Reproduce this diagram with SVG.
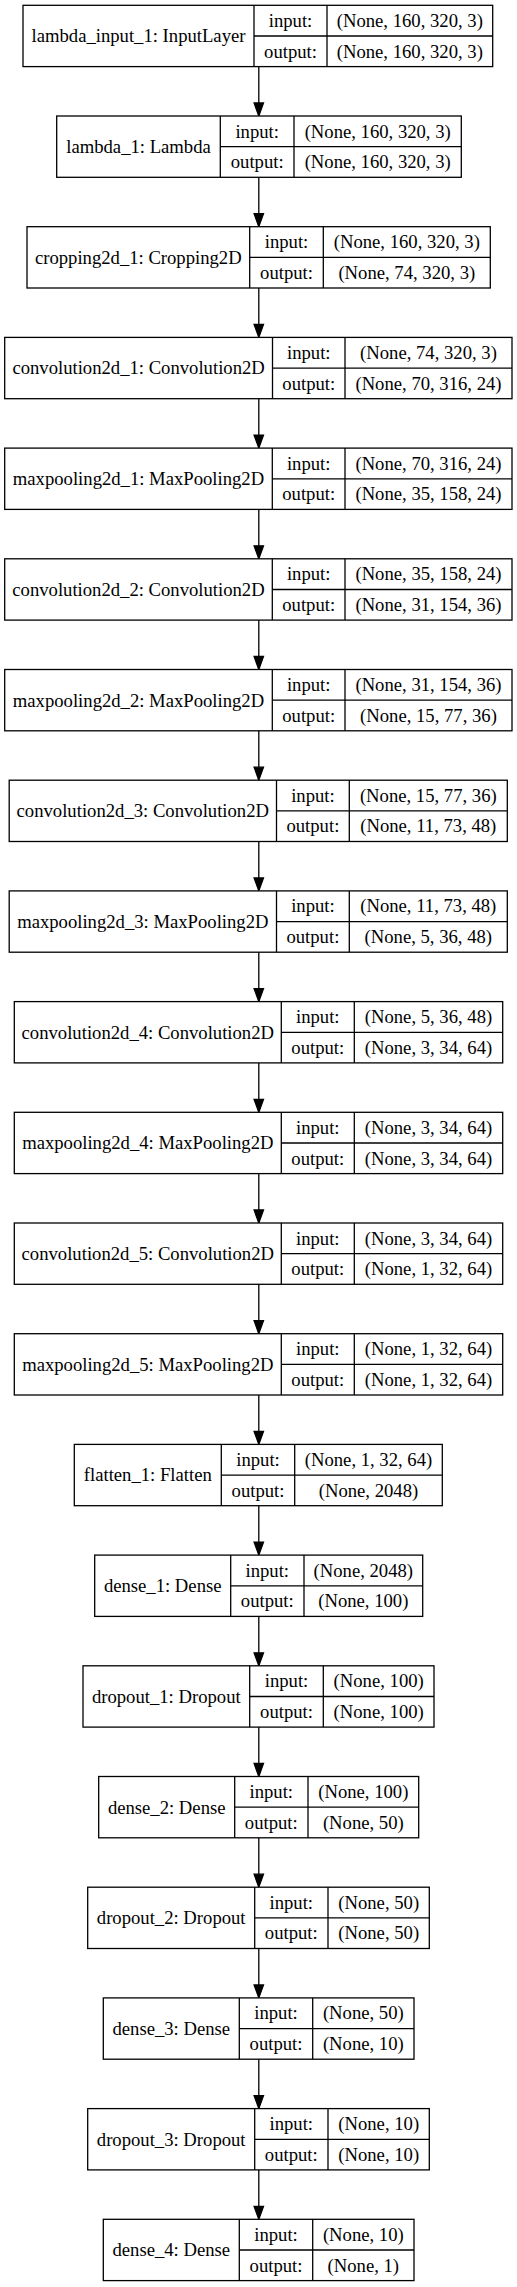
<svg xmlns="http://www.w3.org/2000/svg" width="517" height="2287" viewBox="0 0 517 2287">
<style>
rect.box{fill:#fff;stroke:#000;stroke-width:1.3}
line.d{stroke:#000;stroke-width:1.3}
text{font-family:"Liberation Serif","Times New Roman",serif;font-size:18.67px;fill:#000;text-anchor:middle}
.edge line{stroke:#000;stroke-width:1.3}
.edge polygon{fill:#000;stroke:#000;stroke-width:1.3}
</style>
<rect width="517" height="2287" fill="#fff"/>
<g id="edges" class="edge">
<line x1="258.8" y1="66.6" x2="258.8" y2="103"/><polygon points="258.8,116 254.1,103 263.5,103"/>
<line x1="258.8" y1="177.3" x2="258.8" y2="213.7"/><polygon points="258.8,226.7 254.1,213.7 263.5,213.7"/>
<line x1="258.8" y1="288" x2="258.8" y2="324.4"/><polygon points="258.8,337.4 254.1,324.4 263.5,324.4"/>
<line x1="258.8" y1="398.7" x2="258.8" y2="435.1"/><polygon points="258.8,448.1 254.1,435.1 263.5,435.1"/>
<line x1="258.8" y1="509.4" x2="258.8" y2="545.8"/><polygon points="258.8,558.8 254.1,545.8 263.5,545.8"/>
<line x1="258.8" y1="620.1" x2="258.8" y2="656.5"/><polygon points="258.8,669.5 254.1,656.5 263.5,656.5"/>
<line x1="258.8" y1="730.8" x2="258.8" y2="767.2"/><polygon points="258.8,780.2 254.1,767.2 263.5,767.2"/>
<line x1="258.8" y1="841.5" x2="258.8" y2="877.9"/><polygon points="258.8,890.9 254.1,877.9 263.5,877.9"/>
<line x1="258.8" y1="952.2" x2="258.8" y2="988.6"/><polygon points="258.8,1001.6 254.1,988.6 263.5,988.6"/>
<line x1="258.8" y1="1062.9" x2="258.8" y2="1099.3"/><polygon points="258.8,1112.3 254.1,1099.3 263.5,1099.3"/>
<line x1="258.8" y1="1173.6" x2="258.8" y2="1210"/><polygon points="258.8,1223 254.1,1210 263.5,1210"/>
<line x1="258.8" y1="1284.3" x2="258.8" y2="1320.7"/><polygon points="258.8,1333.7 254.1,1320.7 263.5,1320.7"/>
<line x1="258.8" y1="1395" x2="258.8" y2="1431.4"/><polygon points="258.8,1444.4 254.1,1431.4 263.5,1431.4"/>
<line x1="258.8" y1="1505.7" x2="258.8" y2="1542.1"/><polygon points="258.8,1555.1 254.1,1542.1 263.5,1542.1"/>
<line x1="258.8" y1="1616.4" x2="258.8" y2="1652.8"/><polygon points="258.8,1665.8 254.1,1652.8 263.5,1652.8"/>
<line x1="258.8" y1="1727.1" x2="258.8" y2="1763.5"/><polygon points="258.8,1776.5 254.1,1763.5 263.5,1763.5"/>
<line x1="258.8" y1="1837.8" x2="258.8" y2="1874.2"/><polygon points="258.8,1887.2 254.1,1874.2 263.5,1874.2"/>
<line x1="258.8" y1="1948.5" x2="258.8" y2="1984.9"/><polygon points="258.8,1997.9 254.1,1984.9 263.5,1984.9"/>
<line x1="258.8" y1="2059.2" x2="258.8" y2="2095.6"/><polygon points="258.8,2108.6 254.1,2095.6 263.5,2095.6"/>
<line x1="258.8" y1="2169.9" x2="258.8" y2="2206.3"/><polygon points="258.8,2219.3 254.1,2206.3 263.5,2206.3"/>
</g>

<g id="lambda_input_1" transform="translate(0,5.3)">
<rect class="box" x="23" y="0" width="469.7" height="61.3"/>
<line class="d" x1="254" y1="0" x2="254" y2="61.3"/><line class="d" x1="327" y1="0" x2="327" y2="61.3"/><line class="d" x1="254" y1="30.7" x2="492.7" y2="30.7"/>
<text x="138.5" y="37">lambda_input_1: InputLayer</text>
<text x="290.5" y="21.6">input:</text><text x="290.5" y="52.3">output:</text>
<text x="409.8" y="21.6">(None, 160, 320, 3)</text><text x="409.8" y="52.3">(None, 160, 320, 3)</text>
</g>

<g id="lambda_1" transform="translate(0,116)">
<rect class="box" x="56.7" y="0" width="404.6" height="61.3"/>
<line class="d" x1="220.3" y1="0" x2="220.3" y2="61.3"/><line class="d" x1="294" y1="0" x2="294" y2="61.3"/><line class="d" x1="220.3" y1="30.7" x2="461.3" y2="30.7"/>
<text x="138.5" y="37">lambda_1: Lambda</text>
<text x="257.2" y="21.6">input:</text><text x="257.2" y="52.3">output:</text>
<text x="377.7" y="21.6">(None, 160, 320, 3)</text><text x="377.7" y="52.3">(None, 160, 320, 3)</text>
</g>

<g id="cropping2d_1" transform="translate(0,226.7)">
<rect class="box" x="27" y="0" width="463.3" height="61.3"/>
<line class="d" x1="249.7" y1="0" x2="249.7" y2="61.3"/><line class="d" x1="323.3" y1="0" x2="323.3" y2="61.3"/><line class="d" x1="249.7" y1="30.7" x2="490.3" y2="30.7"/>
<text x="138.3" y="37">cropping2d_1: Cropping2D</text>
<text x="286.5" y="21.6">input:</text><text x="286.5" y="52.3">output:</text>
<text x="406.8" y="21.6">(None, 160, 320, 3)</text><text x="406.8" y="52.3">(None, 74, 320, 3)</text>
</g>

<g id="convolution2d_1" transform="translate(0,337.4)">
<rect class="box" x="4.7" y="0" width="507.3" height="61.3"/>
<line class="d" x1="272.5" y1="0" x2="272.5" y2="61.3"/><line class="d" x1="345" y1="0" x2="345" y2="61.3"/><line class="d" x1="272.5" y1="30.7" x2="512" y2="30.7"/>
<text x="138.6" y="37">convolution2d_1: Convolution2D</text>
<text x="308.8" y="21.6">input:</text><text x="308.8" y="52.3">output:</text>
<text x="428.5" y="21.6">(None, 74, 320, 3)</text><text x="428.5" y="52.3">(None, 70, 316, 24)</text>
</g>

<g id="maxpooling2d_1" transform="translate(0,448.1)">
<rect class="box" x="4.7" y="0" width="507.3" height="61.3"/>
<line class="d" x1="272.3" y1="0" x2="272.3" y2="61.3"/><line class="d" x1="345" y1="0" x2="345" y2="61.3"/><line class="d" x1="272.3" y1="30.7" x2="512" y2="30.7"/>
<text x="138.5" y="37">maxpooling2d_1: MaxPooling2D</text>
<text x="308.7" y="21.6">input:</text><text x="308.7" y="52.3">output:</text>
<text x="428.5" y="21.6">(None, 70, 316, 24)</text><text x="428.5" y="52.3">(None, 35, 158, 24)</text>
</g>

<g id="convolution2d_2" transform="translate(0,558.8)">
<rect class="box" x="4.7" y="0" width="507.3" height="61.3"/>
<line class="d" x1="272.3" y1="0" x2="272.3" y2="61.3"/><line class="d" x1="345" y1="0" x2="345" y2="61.3"/><line class="d" x1="272.3" y1="30.7" x2="512" y2="30.7"/>
<text x="138.5" y="37">convolution2d_2: Convolution2D</text>
<text x="308.7" y="21.6">input:</text><text x="308.7" y="52.3">output:</text>
<text x="428.5" y="21.6">(None, 35, 158, 24)</text><text x="428.5" y="52.3">(None, 31, 154, 36)</text>
</g>

<g id="maxpooling2d_2" transform="translate(0,669.5)">
<rect class="box" x="4.7" y="0" width="507.3" height="61.3"/>
<line class="d" x1="272.3" y1="0" x2="272.3" y2="61.3"/><line class="d" x1="345" y1="0" x2="345" y2="61.3"/><line class="d" x1="272.3" y1="30.7" x2="512" y2="30.7"/>
<text x="138.5" y="37">maxpooling2d_2: MaxPooling2D</text>
<text x="308.7" y="21.6">input:</text><text x="308.7" y="52.3">output:</text>
<text x="428.5" y="21.6">(None, 31, 154, 36)</text><text x="428.5" y="52.3">(None, 15, 77, 36)</text>
</g>

<g id="convolution2d_3" transform="translate(0,780.2)">
<rect class="box" x="9.2" y="0" width="498.1" height="61.3"/>
<line class="d" x1="276.5" y1="0" x2="276.5" y2="61.3"/><line class="d" x1="349.3" y1="0" x2="349.3" y2="61.3"/><line class="d" x1="276.5" y1="30.7" x2="507.3" y2="30.7"/>
<text x="142.8" y="37">convolution2d_3: Convolution2D</text>
<text x="312.9" y="21.6">input:</text><text x="312.9" y="52.3">output:</text>
<text x="428.3" y="21.6">(None, 15, 77, 36)</text><text x="428.3" y="52.3">(None, 11, 73, 48)</text>
</g>

<g id="maxpooling2d_3" transform="translate(0,890.9)">
<rect class="box" x="9.2" y="0" width="498.1" height="61.3"/>
<line class="d" x1="276.5" y1="0" x2="276.5" y2="61.3"/><line class="d" x1="349.3" y1="0" x2="349.3" y2="61.3"/><line class="d" x1="276.5" y1="30.7" x2="507.3" y2="30.7"/>
<text x="142.8" y="37">maxpooling2d_3: MaxPooling2D</text>
<text x="312.9" y="21.6">input:</text><text x="312.9" y="52.3">output:</text>
<text x="428.3" y="21.6">(None, 11, 73, 48)</text><text x="428.3" y="52.3">(None, 5, 36, 48)</text>
</g>

<g id="convolution2d_4" transform="translate(0,1001.6)">
<rect class="box" x="14.3" y="0" width="488.4" height="61.3"/>
<line class="d" x1="281.3" y1="0" x2="281.3" y2="61.3"/><line class="d" x1="354.3" y1="0" x2="354.3" y2="61.3"/><line class="d" x1="281.3" y1="30.7" x2="502.7" y2="30.7"/>
<text x="147.8" y="37">convolution2d_4: Convolution2D</text>
<text x="317.8" y="21.6">input:</text><text x="317.8" y="52.3">output:</text>
<text x="428.5" y="21.6">(None, 5, 36, 48)</text><text x="428.5" y="52.3">(None, 3, 34, 64)</text>
</g>

<g id="maxpooling2d_4" transform="translate(0,1112.3)">
<rect class="box" x="14.3" y="0" width="488.4" height="61.3"/>
<line class="d" x1="281.3" y1="0" x2="281.3" y2="61.3"/><line class="d" x1="354.3" y1="0" x2="354.3" y2="61.3"/><line class="d" x1="281.3" y1="30.7" x2="502.7" y2="30.7"/>
<text x="147.8" y="37">maxpooling2d_4: MaxPooling2D</text>
<text x="317.8" y="21.6">input:</text><text x="317.8" y="52.3">output:</text>
<text x="428.5" y="21.6">(None, 3, 34, 64)</text><text x="428.5" y="52.3">(None, 3, 34, 64)</text>
</g>

<g id="convolution2d_5" transform="translate(0,1223)">
<rect class="box" x="14.3" y="0" width="488.4" height="61.3"/>
<line class="d" x1="281.3" y1="0" x2="281.3" y2="61.3"/><line class="d" x1="354.3" y1="0" x2="354.3" y2="61.3"/><line class="d" x1="281.3" y1="30.7" x2="502.7" y2="30.7"/>
<text x="147.8" y="37">convolution2d_5: Convolution2D</text>
<text x="317.8" y="21.6">input:</text><text x="317.8" y="52.3">output:</text>
<text x="428.5" y="21.6">(None, 3, 34, 64)</text><text x="428.5" y="52.3">(None, 1, 32, 64)</text>
</g>

<g id="maxpooling2d_5" transform="translate(0,1333.7)">
<rect class="box" x="14.3" y="0" width="488.4" height="61.3"/>
<line class="d" x1="281.3" y1="0" x2="281.3" y2="61.3"/><line class="d" x1="354.3" y1="0" x2="354.3" y2="61.3"/><line class="d" x1="281.3" y1="30.7" x2="502.7" y2="30.7"/>
<text x="147.8" y="37">maxpooling2d_5: MaxPooling2D</text>
<text x="317.8" y="21.6">input:</text><text x="317.8" y="52.3">output:</text>
<text x="428.5" y="21.6">(None, 1, 32, 64)</text><text x="428.5" y="52.3">(None, 1, 32, 64)</text>
</g>

<g id="flatten_1" transform="translate(0,1444.4)">
<rect class="box" x="74.3" y="0" width="368" height="61.3"/>
<line class="d" x1="221.3" y1="0" x2="221.3" y2="61.3"/><line class="d" x1="294.7" y1="0" x2="294.7" y2="61.3"/><line class="d" x1="221.3" y1="30.7" x2="442.3" y2="30.7"/>
<text x="147.8" y="37">flatten_1: Flatten</text>
<text x="258" y="21.6">input:</text><text x="258" y="52.3">output:</text>
<text x="368.5" y="21.6">(None, 1, 32, 64)</text><text x="368.5" y="52.3">(None, 2048)</text>
</g>

<g id="dense_1" transform="translate(0,1555.1)">
<rect class="box" x="94.7" y="0" width="328" height="61.3"/>
<line class="d" x1="230.7" y1="0" x2="230.7" y2="61.3"/><line class="d" x1="304" y1="0" x2="304" y2="61.3"/><line class="d" x1="230.7" y1="30.7" x2="422.7" y2="30.7"/>
<text x="162.7" y="37">dense_1: Dense</text>
<text x="267.3" y="21.6">input:</text><text x="267.3" y="52.3">output:</text>
<text x="363.3" y="21.6">(None, 2048)</text><text x="363.3" y="52.3">(None, 100)</text>
</g>

<g id="dropout_1" transform="translate(0,1665.8)">
<rect class="box" x="83" y="0" width="351" height="61.3"/>
<line class="d" x1="249.7" y1="0" x2="249.7" y2="61.3"/><line class="d" x1="323.3" y1="0" x2="323.3" y2="61.3"/><line class="d" x1="249.7" y1="30.7" x2="434" y2="30.7"/>
<text x="166.3" y="37">dropout_1: Dropout</text>
<text x="286.5" y="21.6">input:</text><text x="286.5" y="52.3">output:</text>
<text x="378.7" y="21.6">(None, 100)</text><text x="378.7" y="52.3">(None, 100)</text>
</g>

<g id="dense_2" transform="translate(0,1776.5)">
<rect class="box" x="98.7" y="0" width="320" height="61.3"/>
<line class="d" x1="234.7" y1="0" x2="234.7" y2="61.3"/><line class="d" x1="308" y1="0" x2="308" y2="61.3"/><line class="d" x1="234.7" y1="30.7" x2="418.7" y2="30.7"/>
<text x="166.7" y="37">dense_2: Dense</text>
<text x="271.3" y="21.6">input:</text><text x="271.3" y="52.3">output:</text>
<text x="363.3" y="21.6">(None, 100)</text><text x="363.3" y="52.3">(None, 50)</text>
</g>

<g id="dropout_2" transform="translate(0,1887.2)">
<rect class="box" x="87.7" y="0" width="341.6" height="61.3"/>
<line class="d" x1="254.7" y1="0" x2="254.7" y2="61.3"/><line class="d" x1="328" y1="0" x2="328" y2="61.3"/><line class="d" x1="254.7" y1="30.7" x2="429.3" y2="30.7"/>
<text x="171.2" y="37">dropout_2: Dropout</text>
<text x="291.3" y="21.6">input:</text><text x="291.3" y="52.3">output:</text>
<text x="378.7" y="21.6">(None, 50)</text><text x="378.7" y="52.3">(None, 50)</text>
</g>

<g id="dense_3" transform="translate(0,1997.9)">
<rect class="box" x="103.3" y="0" width="310.7" height="61.3"/>
<line class="d" x1="239.3" y1="0" x2="239.3" y2="61.3"/><line class="d" x1="312.7" y1="0" x2="312.7" y2="61.3"/><line class="d" x1="239.3" y1="30.7" x2="414" y2="30.7"/>
<text x="171.3" y="37">dense_3: Dense</text>
<text x="276" y="21.6">input:</text><text x="276" y="52.3">output:</text>
<text x="363.3" y="21.6">(None, 50)</text><text x="363.3" y="52.3">(None, 10)</text>
</g>

<g id="dropout_3" transform="translate(0,2108.6)">
<rect class="box" x="87.7" y="0" width="341.6" height="61.3"/>
<line class="d" x1="254.7" y1="0" x2="254.7" y2="61.3"/><line class="d" x1="328" y1="0" x2="328" y2="61.3"/><line class="d" x1="254.7" y1="30.7" x2="429.3" y2="30.7"/>
<text x="171.2" y="37">dropout_3: Dropout</text>
<text x="291.3" y="21.6">input:</text><text x="291.3" y="52.3">output:</text>
<text x="378.7" y="21.6">(None, 10)</text><text x="378.7" y="52.3">(None, 10)</text>
</g>

<g id="dense_4" transform="translate(0,2219.3)">
<rect class="box" x="103.3" y="0" width="310.7" height="61.3"/>
<line class="d" x1="239.3" y1="0" x2="239.3" y2="61.3"/><line class="d" x1="312.7" y1="0" x2="312.7" y2="61.3"/><line class="d" x1="239.3" y1="30.7" x2="414" y2="30.7"/>
<text x="171.3" y="37">dense_4: Dense</text>
<text x="276" y="21.6">input:</text><text x="276" y="52.3">output:</text>
<text x="363.3" y="21.6">(None, 10)</text><text x="363.3" y="52.3">(None, 1)</text>
</g>
</svg>
